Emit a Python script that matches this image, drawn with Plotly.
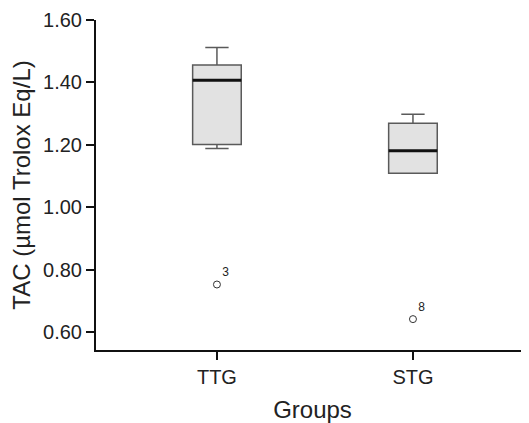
import plotly.graph_objects as go

groups = ["TTG", "STG"]
lower_whisker = [1.188, 1.109]
q1 = [1.201, 1.109]
median = [1.407, 1.181]
q3 = [1.456, 1.269]
upper_whisker = [1.512, 1.298]
outlier_values = [0.752, 0.641]
outlier_labels = ["3", "8"]

box_width = 0.248
pos = list(range(len(groups)))

fig = go.Figure()
fig.add_trace(go.Box(
    x=pos, q1=q1, median=median, q3=q3,
    lowerfence=lower_whisker, upperfence=upper_whisker,
    width=box_width, whiskerwidth=0.48,
    fillcolor="#e2e2e2", line=dict(color="#5a5a5a", width=1.5),
    boxpoints=False, showlegend=False, hoverinfo="skip",
))
for i, m in zip(pos, median):
    fig.add_trace(go.Scatter(
        x=[i - box_width / 2, i + box_width / 2], y=[m, m],
        mode="lines", line=dict(color="#111111", width=3),
        showlegend=False, hoverinfo="skip",
    ))
fig.add_trace(go.Scatter(
    x=pos, y=outlier_values, mode="markers+text",
    text=outlier_labels, textposition="top right",
    textfont=dict(size=12, color="#222222", family="Liberation Sans"),
    marker=dict(symbol="circle-open", size=7, color="#333333", line=dict(width=1)),
    showlegend=False, hoverinfo="skip",
))

fig.update_layout(
    width=521, height=415,
    margin=dict(l=88, r=0, t=12, b=73),
    plot_bgcolor="white", paper_bgcolor="white",
    font=dict(family="Liberation Sans", size=20, color="#222222"),
    xaxis=dict(
        range=[-0.617, 1.592], tickvals=pos, ticktext=groups,
        showline=True, linecolor="#111111", linewidth=2,
        ticks="outside", ticklen=8, tickwidth=1.5, tickcolor="#111111",
        showgrid=False, zeroline=False,
        title=dict(text="Groups", standoff=22), automargin=False,
    ),
    yaxis=dict(
        range=[0.542, 1.60], tickvals=[0.6, 0.8, 1.0, 1.2, 1.4, 1.6],
        tickformat=".2f",
        showline=True, linecolor="#111111", linewidth=2,
        ticks="outside", ticklen=8, tickwidth=1.5, tickcolor="#111111",
        showgrid=False, zeroline=False,
        title=dict(text="TAC (µmol Trolox Eq/L)", standoff=25), automargin=False,
    ),
)
fig.write_html("out.html")
